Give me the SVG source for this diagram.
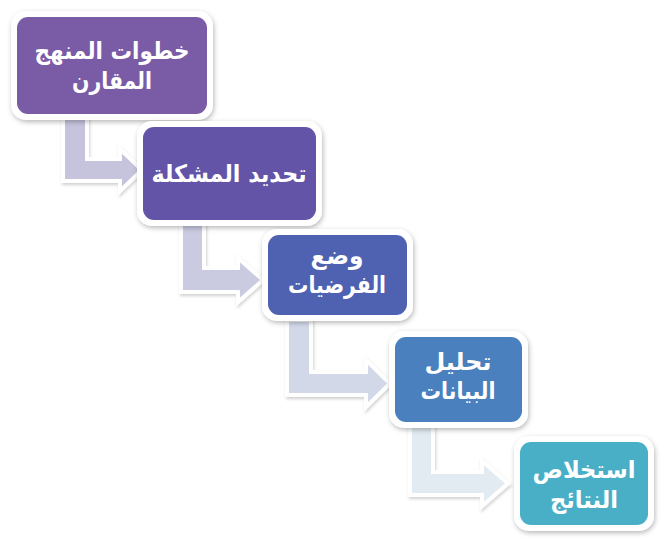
<svg xmlns="http://www.w3.org/2000/svg" width="662" height="547" viewBox="0 0 662 547">
<defs>
<filter id="sh" x="-20%" y="-20%" width="140%" height="150%">
<feDropShadow dx="1" dy="2" stdDeviation="2.5" flood-color="#000" flood-opacity="0.28"/>
</filter>
<filter id="ash" x="-20%" y="-20%" width="140%" height="150%">
<feDropShadow dx="1" dy="2" stdDeviation="1.5" flood-color="#000" flood-opacity="0.18"/>
</filter>
</defs>
<style>
.frame{fill:#ffffff;filter:url(#sh)}
.arrow{stroke:#ffffff;stroke-width:4;stroke-linejoin:miter;filter:url(#ash)}
.t{font-family:"DejaVu Sans",sans-serif;font-weight:bold;fill:#ffffff;text-anchor:middle;direction:rtl;font-size:24px}
</style>
<rect width="662" height="547" fill="#ffffff"/>
<g id="connectors">
<path class="arrow" fill="#c6c3dc" d="M63,110 L87,110 L87,159 L120,159 L120,149 L142,170 L120,191 L120,181 L63,181 Z"/>
<path class="arrow" fill="#cacbe0" d="M181,218 L204,218 L204,268 L238,268 L238,258 L263,280 L238,302 L238,292 L181,292 Z"/>
<path class="arrow" fill="#d3d8e9" d="M287,320 L311,320 L311,372 L366,372 L366,360 L390,383.5 L366,407 L366,395 L287,395 Z"/>
<path class="arrow" fill="#e2ebf1" d="M410,425 L433,425 L433,472 L482,472 L482,461 L508,483.5 L482,506 L482,495 L410,495 Z"/>
</g>
<g id="n1">
<rect class="frame" x="11" y="11" width="202" height="109" rx="15"/>
<rect x="17" y="17" width="190" height="97" rx="11" fill="#7a5ba6"/>
<text class="t" x="112" y="59" textLength="155" lengthAdjust="spacingAndGlyphs">خطوات المنهج</text>
<text class="t" x="112" y="89" textLength="80" lengthAdjust="spacingAndGlyphs">المقارن</text>
</g>
<g id="n2">
<rect class="frame" x="137" y="121" width="185" height="105" rx="15"/>
<rect x="143" y="127" width="173" height="93" rx="11" fill="#6354a8"/>
<text class="t" x="229" y="182" textLength="155" lengthAdjust="spacingAndGlyphs">تحديد المشكلة</text>
</g>
<g id="n3">
<rect class="frame" x="262" y="229" width="151" height="92" rx="15"/>
<rect x="268" y="235" width="139" height="80" rx="11" fill="#4f61b1"/>
<text class="t" x="337" y="264" textLength="53" lengthAdjust="spacingAndGlyphs">وضع</text>
<text class="t" x="337" y="293" textLength="98" lengthAdjust="spacingAndGlyphs">الفرضيات</text>
</g>
<g id="n4">
<rect class="frame" x="389" y="331" width="139" height="97" rx="15"/>
<rect x="395" y="337" width="127" height="85" rx="11" fill="#4a80be"/>
<text class="t" x="458" y="370" textLength="67" lengthAdjust="spacingAndGlyphs">تحليل</text>
<text class="t" x="458" y="399" textLength="75" lengthAdjust="spacingAndGlyphs">البيانات</text>
</g>
<g id="n5">
<rect class="frame" x="514" y="436" width="140" height="95" rx="15"/>
<rect x="520" y="442" width="128" height="83" rx="11" fill="#49afc7"/>
<text class="t" x="584" y="478" textLength="103" lengthAdjust="spacingAndGlyphs">استخلاص</text>
<text class="t" x="584" y="508" textLength="68" lengthAdjust="spacingAndGlyphs">النتائج</text>
</g>
</svg>
